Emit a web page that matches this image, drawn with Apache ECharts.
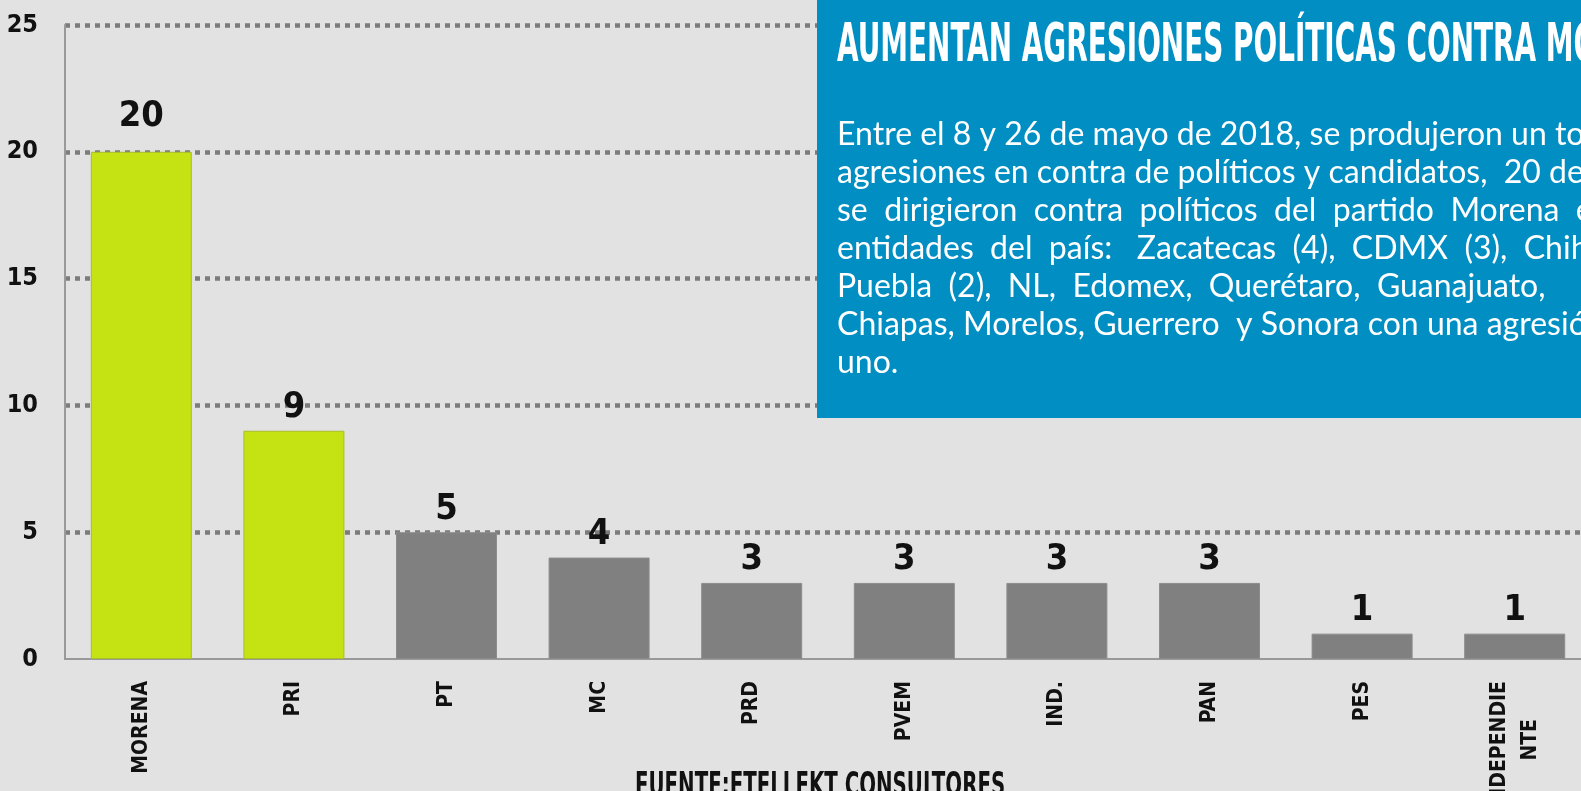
<!DOCTYPE html>
<html>
<head>
<meta charset="UTF-8">
<title>Agresiones políticas por partido</title>
<script src="https://cdn.jsdelivr.net/npm/echarts@6/dist/echarts.min.js"></script>
<style>
  html, body { margin: 0; padding: 0; background: #e2e2e2; }
  #chart { width: 1581px; height: 791px; }
</style>
</head>
<body>
<div id="chart"></div>
<script>
// datos: agresiones por partido, 8-26 mayo 2018
const partidos = ['MORENA', 'PRI', 'PT', 'MC', 'PRD', 'PVEM', 'IND.', 'PAN', 'PES', 'INDEPENDIE\nNTE'];
const agresiones = [20, 9, 5, 4, 3, 3, 3, 3, 1, 1];
const yTicks = [0, 5, 10, 15, 20, 25];

const titulo = 'AUMENTAN AGRESIONES POLÍTICAS CONTRA MORENA';
const parrafo = [
  'Entre el 8 y 26 de mayo de 2018, se produjeron un total de 52',
  'agresiones en contra de políticos y candidatos,  20 de ellas',
  'se  dirigieron  contra  políticos  del  partido  Morena  en',
  'entidades  del  país:   Zacatecas  (4),  CDMX  (3),  Chihuahua',
  'Puebla  (2),  NL,  Edomex,  Querétaro,  Guanajuato,',
  'Chiapas, Morelos, Guerrero  y Sonora con una agresión cada',
  'uno.'
];
const fuente = 'FUENTE:ETELLEKT CONSULTORES';

const narrow = "'DejaVu Sans Condensed', 'DejaVu Sans', sans-serif";
const lime = '#c5e213';
const gris = '#808080';

const chart = echarts.init(document.getElementById('chart'));

const barData = agresiones.map((v, i) => ({
  value: v,
  itemStyle: {
    color: i < 2 ? lime : gris,
    borderColor: i < 2 ? '#a9bd2a' : '#8c8c8c'
  },
  label: i === 0 ? { distance: 17 } : undefined
}));

const lineas = parrafo.map((t, i) => ({
  type: 'text',
  x: 837,
  y: 119 + i * 38,
  z: 11,
  style: {
    text: t,
    fill: '#ffffff',
    font: '32px Lato, sans-serif',
    textVerticalAlign: 'top'
  }
}));

// second line of a wrapped label sits centred under the first
function etiqueta(v) {
  return v.split('\n').map((s, i) => (i === 0 ? s : '{sub|' + s + '}')).join('\n');
}

const option = {
  backgroundColor: '#e2e2e2',
  animation: false,
  grid: {
    left: 65, top: 25, width: 1526, bottom: 132,
    containLabel: false,
    outerBoundsMode: 'none'
  },
  xAxis: {
    type: 'category',
    data: partidos,
    axisLine: { lineStyle: { color: '#999', width: 2 } },
    axisTick: { show: false },
    axisLabel: {
      rotate: 90,
      margin: 22,
      color: '#111',
      fontFamily: narrow,
      fontWeight: 'bold',
      fontSize: 21,
      lineHeight: 31,
      align: 'right',
      formatter: etiqueta,
      rich: {
        sub: {
          color: '#111',
          fontFamily: narrow,
          fontWeight: 'bold',
          fontSize: 21,
          lineHeight: 31,
          padding: [0, 38, 0, 0]
        }
      }
    }
  },
  yAxis: {
    type: 'value',
    min: yTicks[0],
    max: yTicks[yTicks.length - 1],
    interval: 5,
    axisLine: { show: true, lineStyle: { color: '#999', width: 2 } },
    axisTick: { show: false },
    axisLabel: {
      margin: 27,
      color: '#111',
      fontFamily: narrow,
      fontWeight: 'bold',
      fontSize: 25
    },
    splitLine: {
      showMinLine: false,
      lineStyle: { color: '#7c7c7c', width: 4.5, type: [5, 5] }
    }
  },
  series: [{
    type: 'bar',
    data: barData,
    barWidth: 101,
    itemStyle: { borderWidth: 1 },
    label: {
      show: true,
      position: 'top',
      distance: 5,
      color: '#111',
      fontFamily: narrow,
      fontWeight: 'bold',
      fontSize: 36
    }
  }],
  graphic: [
    {
      type: 'rect',
      x: 817,
      y: 0,
      shape: { width: 800, height: 418 },
      style: { fill: '#008ec3' },
      z: 10
    },
    {
      type: 'text',
      x: 837,
      y: 21,
      scaleY: 1.7,
      z: 11,
      style: {
        text: titulo,
        fill: '#ffffff',
        font: "bold 31px 'DejaVu Sans Condensed', sans-serif",
        textVerticalAlign: 'top'
      }
    },
    ...lineas,
    {
      type: 'text',
      x: 635,
      y: 771,
      scaleY: 1.5,
      z: 11,
      style: {
        text: fuente,
        fill: '#111',
        font: "bold 22px 'DejaVu Sans Condensed', sans-serif",
        textVerticalAlign: 'top'
      }
    }
  ]
};

chart.setOption(option);
</script>
</body>
</html>
